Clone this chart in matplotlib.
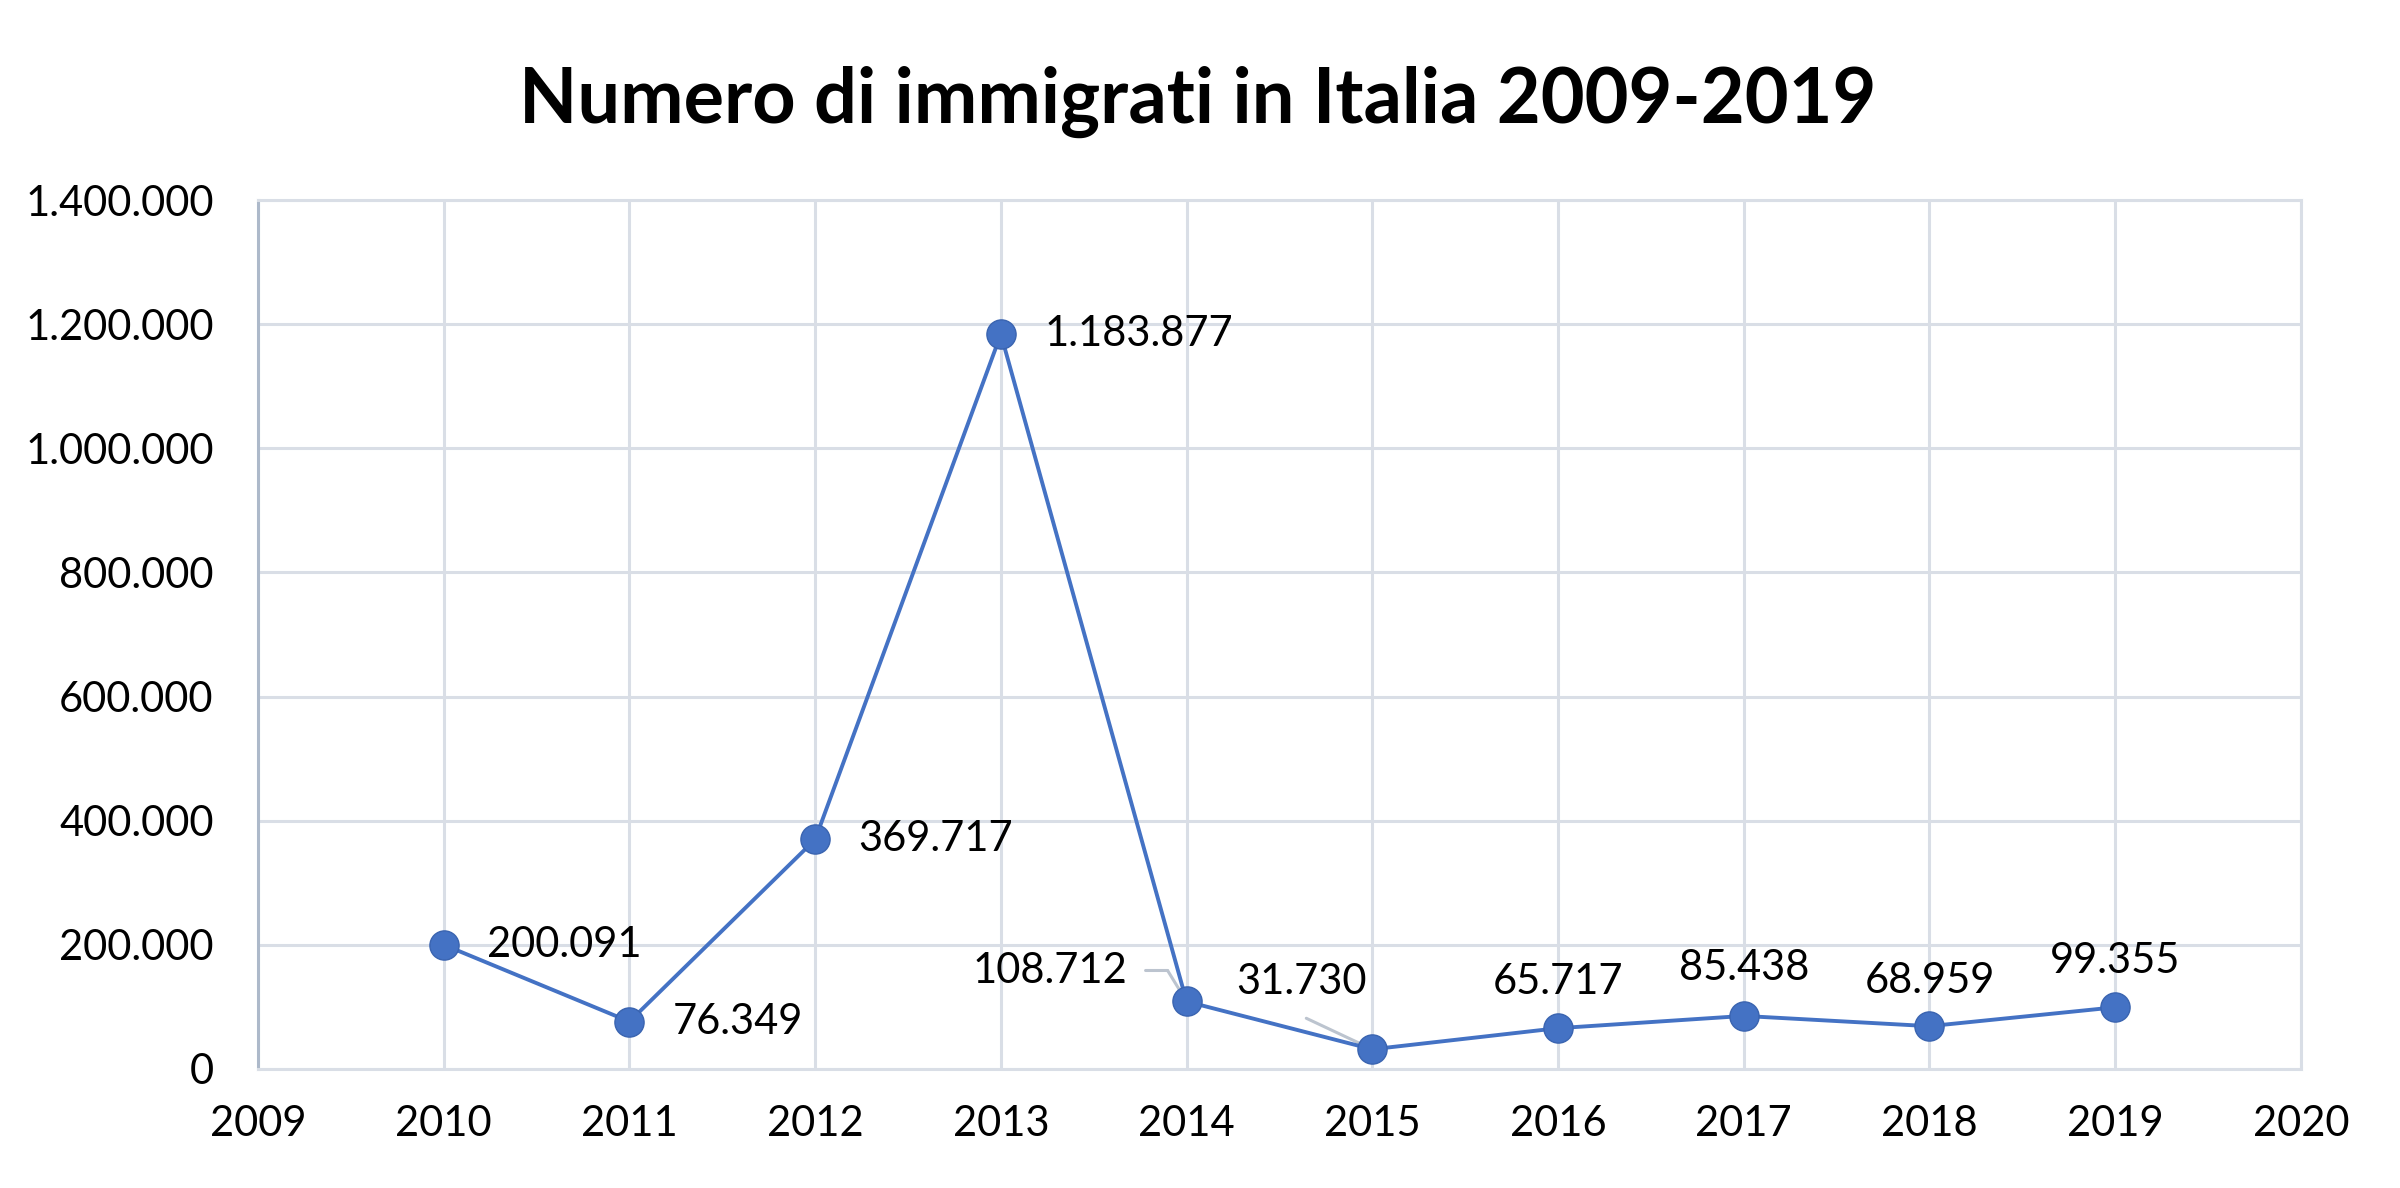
#!/usr/bin/env python3
"""Numero di immigrati in Italia 2009-2019 - line chart with data labels."""

import matplotlib

matplotlib.use("Agg")
import matplotlib.pyplot as plt
from matplotlib.ticker import FuncFormatter, MultipleLocator
from matplotlib.transforms import offset_copy

years = [2010, 2011, 2012, 2013, 2014, 2015, 2016, 2017, 2018, 2019]
immigrati = [200091, 76349, 369717, 1183877, 108712, 31730, 65717, 85438, 68959, 99355]
title = "Numero di immigrati in Italia 2009-2019"

BLUE = "#4472C4"
GRID = "#D9DEE6"
LEADER = "#BCC4CF"
FONT = "Lato"


def it_fmt(v, _pos=None):
    return f"{int(round(v)):,}".replace(",", ".")


fig = plt.figure(figsize=(24, 11.88), dpi=100)
ax = fig.add_axes([0.1075, 0.1002, 0.8512, 0.7314])

ax.plot(years, immigrati, color=BLUE, linewidth=2.8, marker="o",
        markersize=21, markerfacecolor=BLUE, markeredgecolor="#3A64B0",
        markeredgewidth=1.0, zorder=3)

ax.set_xlim(2009, 2020)
ax.set_ylim(0, 1400000)
ax.xaxis.set_major_locator(MultipleLocator(1))
ax.yaxis.set_major_locator(MultipleLocator(200000))
ax.yaxis.set_major_formatter(FuncFormatter(it_fmt))
ax.grid(True, color=GRID, linewidth=2.2, zorder=0)
ax.set_axisbelow(True)
for side in ("top", "right", "bottom"):
    ax.spines[side].set_color(GRID)
    ax.spines[side].set_linewidth(2.2)
ax.spines["left"].set_color("#ADB9CA")
ax.spines["left"].set_linewidth(2.2)
ax.tick_params(axis="both", length=0, labelsize=30)
ax.tick_params(axis="x", pad=26)
ax.tick_params(axis="y", pad=32)
for lbl in ax.get_xticklabels() + ax.get_yticklabels():
    lbl.set_fontfamily(FONT)

# data labels: (dx, dy, ha) in pixels from the point
placements = {
    2010: (43, 0, "left"),
    2011: (43, 0, "left"),
    2012: (43, 0, "left"),
    2013: (44, 0, "left"),
    2014: (-59, 30, "right"),
    2015: (-71, 67, "center"),
    2016: (0, 46, "center"),
    2017: (0, 48, "center"),
    2018: (0, 45, "center"),
    2019: (0, 46, "center"),
}
for x, y in zip(years, immigrati):
    dx, dy, ha = placements[x]
    ax.annotate(it_fmt(y), xy=(x, y), xytext=(dx, dy), textcoords="offset pixels",
                ha=ha, va="center", fontsize=30, fontfamily=FONT, color="black",
                zorder=4)

# leader lines for the two displaced labels
leader = dict(arrowstyle="-", color=LEADER, linewidth=2.2, shrinkA=0, shrinkB=0)
ax.annotate("", xy=(years[4], immigrati[4]), xytext=(-19, 31),
            textcoords="offset pixels", arrowprops=leader, zorder=2)
ax.annotate("", xy=(years[4], immigrati[4]),
            xycoords=offset_copy(ax.transData, fig=fig, x=-19, y=31, units="dots"),
            xytext=(-22, 0), textcoords="offset pixels", arrowprops=leader, zorder=2)
ax.annotate("", xy=(years[5], immigrati[5]), xytext=(-66, 31),
            textcoords="offset pixels", arrowprops=leader, zorder=2)

fig.text(0.499, 0.897, title, ha="center", va="baseline", fontsize=54.5,
         fontweight="bold", fontfamily=FONT)

fig.savefig("out.png", dpi=100)
